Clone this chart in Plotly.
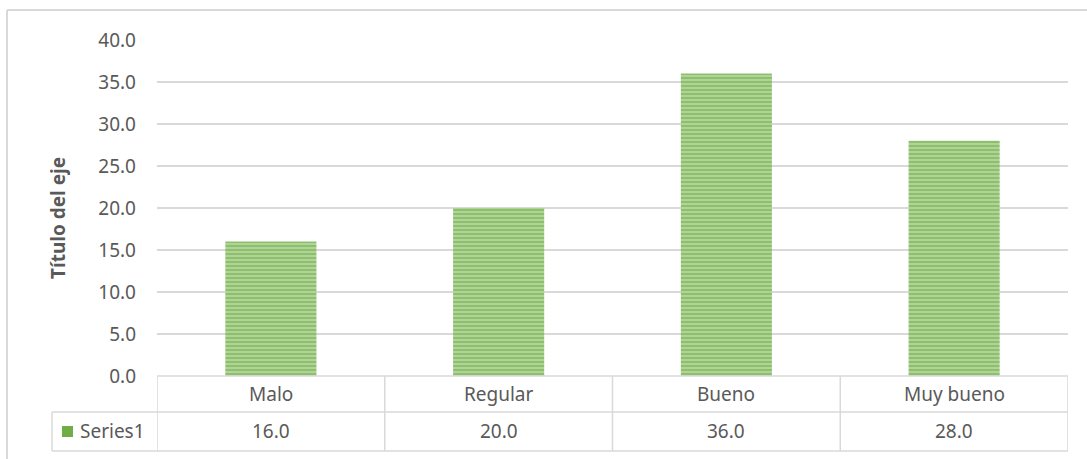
import plotly.graph_objects as go

categories = ["Malo", "Regular", "Bueno", "Muy bueno"]
values = [16.0, 20.0, 36.0, 28.0]
series_name = "Series1"
axis_title = "Título del eje"

W, H = 1087, 459
L, R, T, B = 157, 19, 40, 83
PW, PH = W - L - R, H - T - B

def px(x):
    return (x - L) / PW

def py(y):
    return (H - B - y) / PH

TXT = "#595959"
LINE = "#d9d9d9"
FONT = "Noto Sans"
FS = 19

fig = go.Figure()
fig.add_trace(go.Bar(
    x=categories, y=values, width=0.4, name=series_name,
    marker=dict(
        color="#b3d69a",
        line=dict(width=0),
        pattern=dict(shape="-", fillmode="overlay", fgcolor="#6aa843",
                     size=4, solidity=0.55),
    ),
    showlegend=False,
))

shapes = []
# outer chart border (top and left)
shapes.append(dict(type="line", xref="paper", yref="paper", x0=px(7), x1=px(W), y0=py(10), y1=py(10),
                   line=dict(color=LINE, width=2)))
shapes.append(dict(type="line", xref="paper", yref="paper", x0=px(7), x1=px(7), y0=py(10), y1=py(H),
                   line=dict(color=LINE, width=2)))
# data table horizontal lines
shapes.append(dict(type="line", xref="paper", yref="paper", x0=0, x1=1, y0=0, y1=0,
                   line=dict(color=LINE, width=1.5)))
for yy in (412, 451):
    shapes.append(dict(type="line", xref="paper", yref="paper", x0=px(52), x1=1, y0=py(yy), y1=py(yy),
                       line=dict(color=LINE, width=1.5)))
shapes.append(dict(type="line", xref="paper", yref="paper", x0=px(52), x1=px(52), y0=py(412), y1=py(451),
                   line=dict(color=LINE, width=1.5)))
# vertical column separators at category boundaries
for i in range(len(categories) + 1):
    shapes.append(dict(type="line", xref="x", yref="paper", x0=i - 0.5, x1=i - 0.5, y0=0, y1=py(451),
                       line=dict(color=LINE, width=1.5)))
# legend key
shapes.append(dict(type="rect", xref="paper", yref="paper", x0=px(62), x1=px(73), y0=py(426), y1=py(437),
                   fillcolor="#70ad47", line=dict(width=0)))

annotations = []
for c, v in zip(categories, values):
    annotations.append(dict(x=c, xref="x", y=py(394), yref="paper", text=c, showarrow=False,
                            font=dict(family=FONT, size=FS, color=TXT), xanchor="center", yanchor="middle"))
    annotations.append(dict(x=c, xref="x", y=py(431), yref="paper", text=f"{v:.1f}", showarrow=False,
                            font=dict(family=FONT, size=FS, color=TXT), xanchor="center", yanchor="middle"))
annotations.append(dict(x=px(78), xref="paper", y=py(431), yref="paper", text=series_name, showarrow=False,
                        font=dict(family=FONT, size=FS, color=TXT), xanchor="left", yanchor="middle"))
annotations.append(dict(x=px(58), xref="paper", y=py(218), yref="paper", text="<b>" + axis_title + "</b>",
                        showarrow=False, textangle=-90,
                        font=dict(family=FONT, size=19, color=TXT), xanchor="center", yanchor="middle"))

fig.update_layout(
    width=W, height=H,
    margin=dict(l=L, r=R, t=T, b=B, pad=0),
    paper_bgcolor="white", plot_bgcolor="white",
    xaxis=dict(showticklabels=False, showgrid=False, zeroline=False, showline=False,
               range=[-0.5, len(categories) - 0.5]),
    yaxis=dict(range=[0, 40], dtick=5, tickformat=".1f", showgrid=True, gridcolor=LINE, gridwidth=1.5,
               zeroline=False, showline=False, ticklabelstandoff=20,
               tickfont=dict(family=FONT, size=FS, color=TXT)),
    shapes=shapes, annotations=annotations,
    bargap=0.6,
)

fig.write_html("out.html", config={"displayModeBar": False},
               post_script="document.body.style.margin='0';document.body.style.padding='0';"
                           "document.body.style.overflow='hidden';")
